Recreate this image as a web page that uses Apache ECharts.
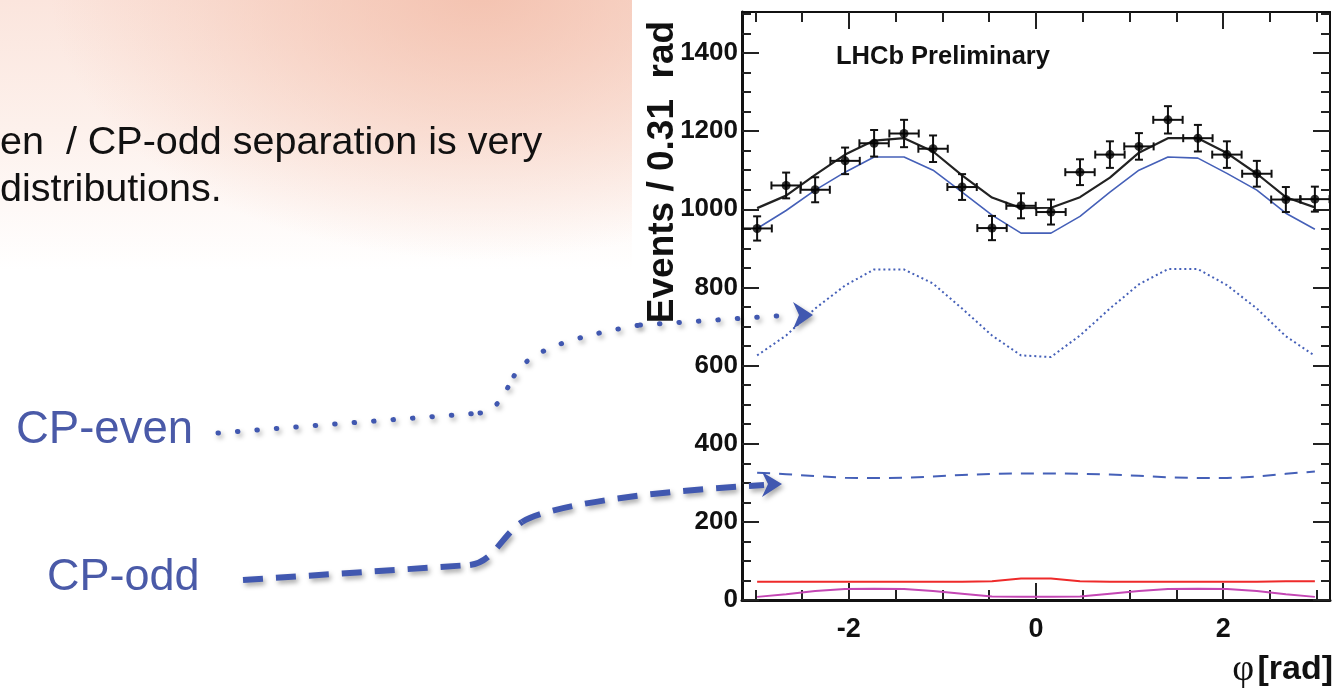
<!DOCTYPE html>
<html>
<head>
<meta charset="utf-8">
<title>CP-even / CP-odd</title>
<script src="https://cdn.jsdelivr.net/npm/echarts@6.0.0/dist/echarts.min.js"></script>
<style>
  html, body { margin: 0; padding: 0; background: #fff; }
  #wrap { position: relative; width: 1343px; height: 694px; overflow: hidden; }
  #bg {
    position: absolute; left: 0; top: 0; width: 632px; height: 694px;
    background:
      radial-gradient(ellipse 430px 270px at 480px -10px, rgba(242,186,165,0.8), rgba(242,186,165,0) 100%),
      linear-gradient(to bottom, #fbe5dd 0px, #fdf1ec 130px, #ffffff 270px);
  }
  #main { position: absolute; left: 0; top: 0; width: 1343px; height: 694px; }
</style>
</head>
<body>
<div id="wrap">
  <div id="bg"></div>
  <div id="main"></div>
</div>
<script>
// bin centres, 20 bins of 0.31 rad
const phi = [-2.98, -2.67, -2.36, -2.04, -1.73, -1.41, -1.10, -0.79, -0.47, -0.16,
             0.16, 0.47, 0.79, 1.10, 1.41, 1.73, 2.04, 2.36, 2.67, 2.98];
const binHalf = 0.157;

// data points
const events   = [951, 1061, 1050, 1124, 1169, 1194, 1155, 1057, 952, 1009,
                  993, 1095, 1140, 1161, 1229, 1182, 1140, 1091, 1025, 1026];
const eventErr = [31, 33, 32, 34, 34, 35, 34, 33, 31, 32,
                  32, 33, 34, 34, 35, 34, 34, 33, 32, 32];

// fit components
const totalFit  = [1003, 1035, 1088, 1140, 1176, 1182, 1148, 1087, 1030, 1003,
                   1004, 1031, 1081, 1145, 1182, 1182, 1144, 1091, 1031, 1005];
const signalFit = [951, 997, 1049, 1095, 1134, 1134, 1100, 1044, 985, 939,
                   939, 982, 1044, 1100, 1134, 1131, 1092, 1049, 990, 949];
const cpEven    = [626, 677, 746, 805, 846, 846, 810, 746, 677, 626,
                   622, 677, 746, 808, 847, 847, 806, 746, 675, 625];
const cpOdd     = [326, 322, 317, 313, 312, 313, 316, 320, 323, 324,
                   324, 323, 321, 318, 314, 312, 312, 316, 323, 329];
const bkgRed    = [47, 47, 47, 47, 47, 47, 47, 47, 48, 55,
                   55, 48, 47, 47, 47, 47, 47, 47, 48, 48];
const bkgPink   = [8, 15, 23, 28, 29, 28, 23, 16, 9, 8,
                   8, 9, 16, 23, 28, 29, 28, 23, 15, 8];

// axis ticks
const xMajor = [-2, 0, 2];
const xMinor = [-3, -2.5, -1.5, -1, -0.5, 0.5, 1, 1.5, 2.5, 3];
const yMajor = [0, 200, 400, 600, 800, 1000, 1200, 1400];
const yMinor = [50, 100, 150, 250, 300, 350, 450, 500, 550, 650, 700, 750, 850, 900, 950,
                1050, 1100, 1150, 1250, 1300, 1350, 1450, 1500];

const pair = (ys) => phi.map((x, i) => [x, ys[i]]);

const sans = "'Liberation Sans', Arial, sans-serif";
const blue = '#4560b8';
const arrowBlue = '#4158b0';

function xAx(pos, ticks, len, withLabel, lineW) {
  return {
    type: 'value', position: pos, min: -Math.PI, max: Math.PI,
    axisLine: { show: lineW > 0, onZero: false, lineStyle: { color: '#111', width: lineW } },
    axisTick: { show: true, inside: true, length: len, customValues: ticks,
                lineStyle: { color: '#222', width: 2 } },
    axisLabel: withLabel ? { show: true, customValues: ticks, margin: 16, formatter: v => String(v),
                color: '#111', fontFamily: sans, fontWeight: 'bold', fontSize: 27 } : { show: false },
    splitLine: { show: false }
  };
}
function yAx(pos, ticks, len, withLabel, lineW) {
  return {
    type: 'value', position: pos, min: 0, max: 1505,
    axisLine: { show: lineW > 0, onZero: false, lineStyle: { color: '#111', width: lineW } },
    axisTick: { show: true, inside: true, length: len, customValues: ticks,
                lineStyle: { color: '#222', width: 2 } },
    axisLabel: withLabel ? { show: true, customValues: ticks, margin: 4, formatter: v => String(v),
                color: '#111', fontFamily: sans, fontWeight: 'bold', fontSize: 26 } : { show: false },
    splitLine: { show: false }
  };
}

function errRender(params, api) {
  const x = api.value(0), y = api.value(1), e = api.value(2);
  const c = api.coord([x, y]);
  const top = api.coord([x, y + e]);
  const bot = api.coord([x, y - e]);
  const lft = api.coord([x - binHalf, y]);
  const rgt = api.coord([x + binHalf, y]);
  const st = { stroke: '#111', lineWidth: 2 };
  const cap = 4;
  return {
    type: 'group',
    children: [
      { type: 'line', shape: { x1: c[0], y1: top[1], x2: c[0], y2: bot[1] }, style: st },
      { type: 'line', shape: { x1: lft[0], y1: c[1], x2: rgt[0], y2: c[1] }, style: st },
      { type: 'line', shape: { x1: c[0] - cap, y1: top[1], x2: c[0] + cap, y2: top[1] }, style: st },
      { type: 'line', shape: { x1: c[0] - cap, y1: bot[1], x2: c[0] + cap, y2: bot[1] }, style: st },
      { type: 'line', shape: { x1: lft[0], y1: c[1] - cap, x2: lft[0], y2: c[1] + cap }, style: st },
      { type: 'line', shape: { x1: rgt[0], y1: c[1] - cap, x2: rgt[0], y2: c[1] + cap }, style: st }
    ]
  };
}

const lineSeries = (name, ys, color, width, type, z) => ({
  name, type: 'line', data: pair(ys), showSymbol: false, symbol: 'none',
  lineStyle: { color, width, type }, z: z || 2, animation: false
});

const shadow = { shadowBlur: 5, shadowColor: 'rgba(0,0,0,0.35)', shadowOffsetX: 2, shadowOffsetY: 3 };

// arrow pieces (slide decoration, pixel positions)
function seg(shapeType, shape, st) {
  return { type: shapeType, z: 20, shape, style: Object.assign({ fill: null }, st, shadow) };
}
const dotStyle = { stroke: arrowBlue, lineWidth: 5, lineDash: [0.5, 19], lineCap: 'round' };
const dashStyle = { stroke: arrowBlue, lineWidth: 6, lineDash: [20, 13], lineCap: 'butt' };

const chart = echarts.init(document.getElementById('main'));
chart.setOption({
  backgroundColor: 'transparent',
  animation: false,
  grid: { left: 742, right: 13, top: 12, bottom: 94, show: false },
  xAxis: [
    xAx('bottom', xMajor, 17, true, 3),
    xAx('bottom', xMinor, 10, false, 0),
    xAx('top', xMajor, 17, false, 2),
    xAx('top', xMinor, 10, false, 0)
  ],
  yAxis: [
    yAx('left', yMajor, 17, true, 3),
    yAx('left', yMinor, 9, false, 0),
    yAx('right', yMajor, 17, false, 2),
    yAx('right', yMinor, 9, false, 0)
  ],
  series: [
    lineSeries('bkgPink', bkgPink, '#c447b4', 2, 'solid'),
    lineSeries('bkgRed', bkgRed, '#ee2a2a', 2, 'solid'),
    lineSeries('cpOdd', cpOdd, blue, 2, [13, 9]),
    lineSeries('cpEven', cpEven, blue, 2, [2, 3]),
    lineSeries('signal', signalFit, blue, 1.6, 'solid'),
    lineSeries('total', totalFit, '#222', 2.2, 'solid', 3),
    {
      name: 'errors', type: 'custom', renderItem: errRender, z: 4,
      data: phi.map((x, i) => [x, events[i], eventErr[i]])
    },
    {
      name: 'events', type: 'scatter', data: pair(events), symbol: 'circle', symbolSize: 9,
      itemStyle: { color: '#000' }, z: 5
    }
  ],
  graphic: [
    // slide text
    { type: 'text', x: 0, y: 143, z: 10,
      style: { text: 'en  / CP-odd separation is very', fill: '#111', fontSize: 39.5,
               fontFamily: sans, verticalAlign: 'middle' } },
    { type: 'text', x: 0, y: 190, z: 10,
      style: { text: 'distributions.', fill: '#111', fontSize: 39.5,
               fontFamily: sans, verticalAlign: 'middle' } },
    { type: 'text', x: 16, y: 430, z: 10,
      style: { text: 'CP-even', fill: '#4a5aa8', fontSize: 45.5, fontFamily: sans, verticalAlign: 'middle' } },
    { type: 'text', x: 47, y: 578, z: 10,
      style: { text: 'CP-odd', fill: '#4a5aa8', fontSize: 45, fontFamily: sans, verticalAlign: 'middle' } },
    // plot texts
    { type: 'text', x: 836, y: 57, z: 10,
      style: { text: 'LHCb Preliminary', fill: '#111', fontSize: 25.5, fontWeight: 'bold',
               fontFamily: sans, verticalAlign: 'middle' } },
    { type: 'text', x: 663, y: 172, rotation: Math.PI / 2, z: 10,
      style: { text: 'Events / 0.31  rad', fill: '#111', fontSize: 37, fontWeight: 'bold',
               fontFamily: sans, align: 'center', verticalAlign: 'middle' } },
    { type: 'text', x: 1333, y: 670, z: 10,
      style: { text: '{p|φ} {r|[rad]}', align: 'right', verticalAlign: 'middle',
               rich: {
                 p: { fontFamily: "'Liberation Serif', 'DejaVu Serif', serif", fontSize: 38, fill: '#111' },
                 r: { fontFamily: sans, fontWeight: 'bold', fontSize: 34, fill: '#111' }
               } } },
    // CP-even dotted arrow
    seg('line', { x1: 218, y1: 433, x2: 480, y2: 413 }, dotStyle),
    seg('bezierCurve', { x1: 480, y1: 413, cpx1: 498, cpy1: 411, cpx2: 505, cpy2: 392, x2: 514, y2: 376 }, dotStyle),
    seg('bezierCurve', { x1: 514, y1: 376, cpx1: 528, cpy1: 352, cpx2: 565, cpy2: 338, x2: 640, y2: 325 }, dotStyle),
    seg('line', { x1: 640, y1: 325, x2: 792, y2: 315 }, dotStyle),
    { type: 'polygon', z: 20,
      shape: { points: [[793, 302], [813, 315], [793, 329], [799, 315]] },
      style: Object.assign({ fill: arrowBlue }, shadow) },
    // CP-odd dashed arrow
    seg('line', { x1: 243, y1: 580, x2: 470, y2: 565 }, dashStyle),
    seg('bezierCurve', { x1: 470, y1: 565, cpx1: 494, cpy1: 562, cpx2: 502, cpy2: 535, x2: 522, y2: 522 }, dashStyle),
    seg('bezierCurve', { x1: 522, y1: 522, cpx1: 548, cpy1: 506, cpx2: 640, cpy2: 492, x2: 764, y2: 485 }, dashStyle),
    { type: 'polygon', z: 20,
      shape: { points: [[762, 472], [782, 484], [762, 497], [768, 484]] },
      style: Object.assign({ fill: arrowBlue }, shadow) }
  ]
});
</script>
</body>
</html>
